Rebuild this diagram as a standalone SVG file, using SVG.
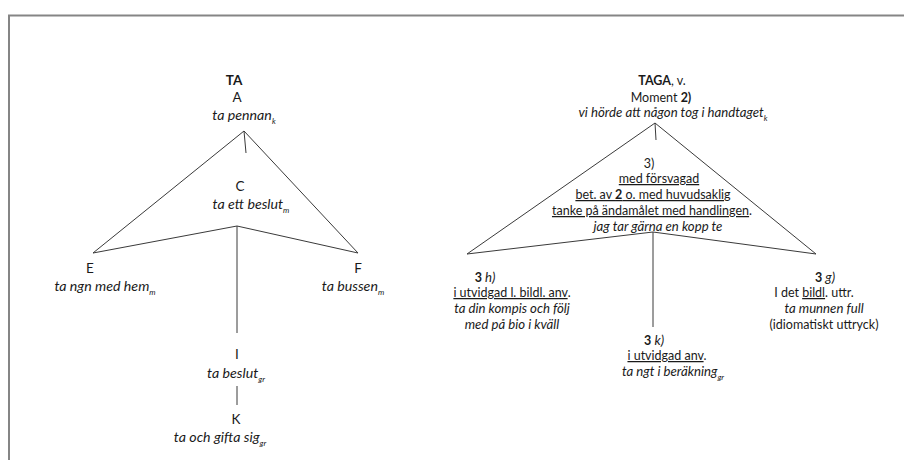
<svg xmlns="http://www.w3.org/2000/svg" width="904" height="460" viewBox="0 0 904 460">
<style>
text{font-family:Lato,"Open Sans","Liberation Sans",sans-serif;font-size:12.5px;fill:#1a1a1a;text-anchor:middle}
.l{font-size:13.5px}
.i{font-style:italic;font-size:13.2px}
.il{font-style:italic;font-size:14.2px}
.b{font-weight:bold}
.u{text-decoration:underline}
.s{font-size:8px}
.ln{stroke:#3a3a3a;stroke-width:1;fill:none}
</style>
<rect x="0" y="0" width="904" height="460" fill="#fff"/>
<path d="M9 460 V15.5 H904" fill="none" stroke="#858585" stroke-width="2"/>
<g id="connectors">
<path class="ln" d="M93 253 L244 131 L358 253"/>
<path class="ln" d="M244 131 L246 153"/>
<path class="ln" d="M93 253 L237 226 L358 253"/>
<path class="ln" d="M237 226 V333"/>
<path class="ln" d="M237 386 V405"/>
<path class="ln" d="M467 254 L655 123 L816 254"/>
<path class="ln" d="M655 123 L656 140"/>
<path class="ln" d="M467 254 L653 232 L816 254"/>
<path class="ln" d="M653 232 V327"/>
</g>
<g id="node-A">
<text x="234" y="85" class="b l">TA</text>
<text x="237" y="102" class="l">A</text>
<text x="244" y="120" class="il">ta pennan<tspan class="s" dy="4">k</tspan></text>
</g>
<g id="node-C">
<text x="240" y="191" class="l">C</text>
<text x="251" y="209" class="il">ta ett beslut<tspan class="s" dy="4">m</tspan></text>
</g>
<g id="node-E">
<text x="90" y="273" class="l">E</text>
<text x="105" y="291" class="il">ta ngn med hem<tspan class="s" dy="4">m</tspan></text>
</g>
<g id="node-F">
<text x="358" y="273" class="l">F</text>
<text x="353" y="291" class="il">ta bussen<tspan class="s" dy="4">m</tspan></text>
</g>
<g id="node-I">
<text x="237" y="359" class="l">I</text>
<text x="236" y="378" class="il">ta beslut<tspan class="s" dy="4">gr</tspan></text>
</g>
<g id="node-K">
<text x="236" y="424" class="l">K</text>
<text x="220" y="442" class="il">ta och gifta sig<tspan class="s" dy="4">gr</tspan></text>
</g>
<g id="node-TAGA">
<text x="662" y="85"><tspan class="b">TAGA</tspan>, v.</text>
<text x="661" y="102">Moment <tspan class="b">2)</tspan></text>
<text x="673" y="117" class="i">vi hörde att någon tog i handtaget<tspan class="s" dy="4">k</tspan></text>
</g>
<g id="node-3">
<text x="649" y="168">3)</text>
<text x="659" y="183" class="u">med försvagad</text>
<text x="653" y="199" class="u">bet. av <tspan class="b">2</tspan> o. med huvudsaklig</text>
<text x="652" y="215"><tspan class="u">tanke på ändamålet med handlingen</tspan>.</text>
<text x="658" y="231" class="i">jag tar gärna en kopp te</text>
</g>
<g id="node-3h">
<text x="485" y="282"><tspan class="b">3</tspan> <tspan class="i">h)</tspan></text>
<text x="512" y="297"><tspan class="u">i utvidgad l. bildl. anv</tspan>.</text>
<text x="512" y="313" class="i">ta din kompis och följ</text>
<text x="512" y="329" class="i">med på bio i kväll</text>
</g>
<g id="node-3k">
<text x="654" y="345"><tspan class="b">3</tspan> <tspan class="i">k)</tspan></text>
<text x="667" y="360"><tspan class="u">i utvidgad anv</tspan>.</text>
<text x="673" y="376" class="i">ta ngt i beräkning<tspan class="s" dy="4">gr</tspan></text>
</g>
<g id="node-3g">
<text x="825" y="282"><tspan class="b">3</tspan> <tspan class="i">g)</tspan></text>
<text x="814" y="297">I det <tspan class="u">bildl</tspan>. uttr.</text>
<text x="824" y="313" class="i">ta munnen full</text>
<text x="824" y="329">(idiomatiskt uttryck)</text>
</g>
</svg>
